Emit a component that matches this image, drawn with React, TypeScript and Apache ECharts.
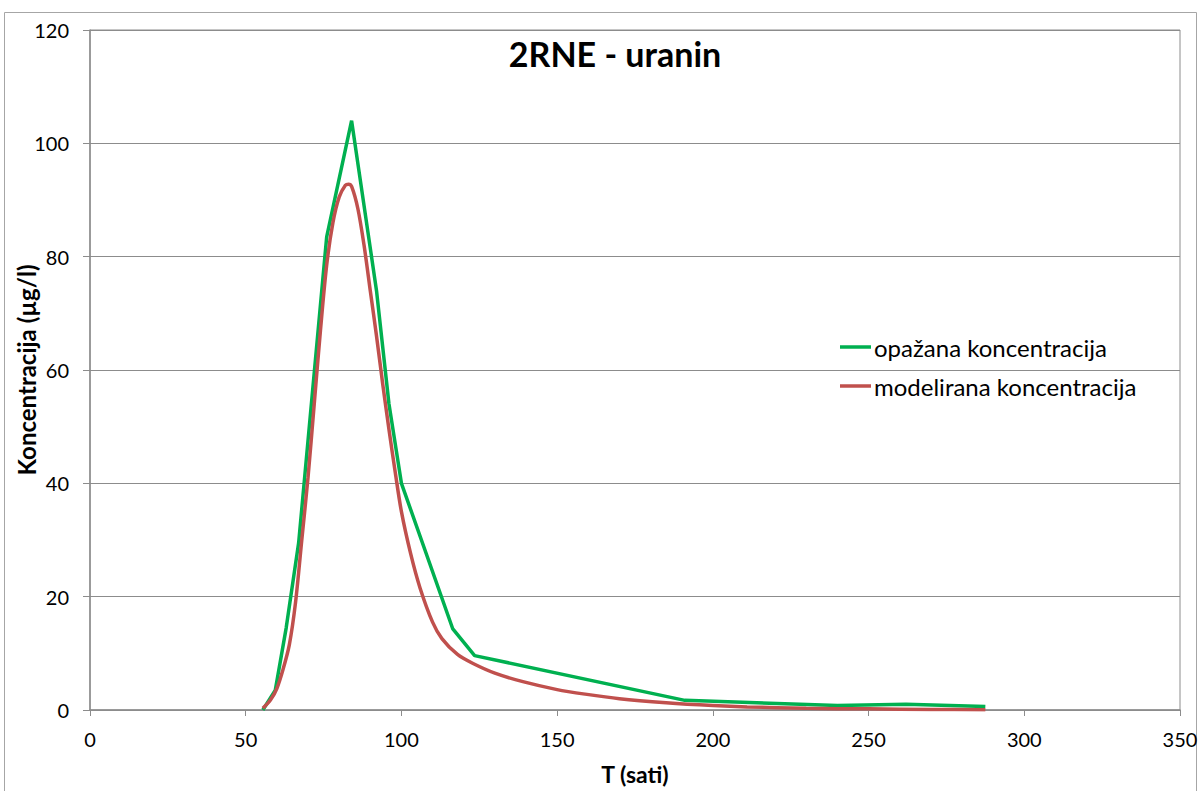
import React, { useEffect, useRef } from "react";
import * as echarts from "echarts";

const xTicks = [0, 50, 100, 150, 200, 250, 300, 350];
const yTicks = [0, 20, 40, 60, 80, 100, 120];

const observedT = [55.5, 59.5, 63, 67, 76, 84, 92, 96, 100, 116.5, 123.5, 191, 240, 262, 287.5];
const observedC = [0, 3.5, 14.5, 29.5, 83.5, 104, 74, 54, 40, 14.3, 9.6, 1.7, 0.8, 1.0, 0.6];

const modelT = [55.5, 58, 60, 62, 64, 66, 68, 70, 72, 74, 76, 78, 80, 82, 83, 84, 86, 88, 90, 92, 94, 96, 98, 100, 103, 106, 110, 113, 118, 123, 130, 139, 150, 159, 170, 185, 200, 211, 230, 250, 270, 287.5];
const modelC = [0.3, 1.8, 3.8, 7.2, 11.5, 19, 30, 41, 54, 67, 78.5, 86, 90.5, 92.6, 92.8, 92.4, 88.5, 82, 74, 66, 57.5, 49.5, 42, 35, 27.5, 21.5, 15.5, 12.6, 9.8, 8.2, 6.5, 5.0, 3.6, 2.8, 2.0, 1.3, 0.8, 0.55, 0.3, 0.2, 0.1, 0.05];

const GREEN = "#00B050";
const RED = "#C0504D";
const FONT = "Lato, 'Open Sans', sans-serif";
const Y_NAME = "Koncentracija (µg/l)";

export default function App() {
  const ref = useRef<HTMLDivElement>(null);
  useEffect(() => {
    if (!ref.current) return;
    const chart = echarts.init(ref.current, null, { renderer: "svg" });
    chart.setOption({
      animation: false,
      backgroundColor: "#fff",
      textStyle: { fontFamily: FONT },
      grid: {
        left: 90,
        right: 21,
        top: 30,
        bottom: 81,
        show: true,
        borderColor: "#8c8c8c",
        borderWidth: 1,
        containLabel: false,
        outerBoundsMode: "none",
      },
      title: {
        text: "2RNE - uranin",
        left: 610,
        top: 31,
        textAlign: "center",
        textStyle: { fontFamily: FONT, fontSize: 34, fontWeight: "bold", color: "#000" },
      },
      legend: {
        orient: "vertical",
        left: 835,
        top: 330,
        itemGap: 15,
        itemWidth: 31,
        itemHeight: 3.5,
        icon: "rect",
        textStyle: { fontFamily: FONT, fontSize: 24, lineHeight: 24, color: "#000", padding: [0, 0, 0, -2] },
        data: ["opažana koncentracija", "modelirana koncentracija"],
      },
      xAxis: {
        type: "value",
        min: xTicks[0],
        max: xTicks[xTicks.length - 1],
        interval: 50,
        name: "T (sati)",
        nameLocation: "middle",
        nameGap: 52,
        nameTextStyle: { fontFamily: FONT, fontSize: 23, fontWeight: "bold", color: "#000" },
        axisLine: { show: true, lineStyle: { color: "#8c8c8c", width: 1.5 } },
        axisTick: { show: true, length: 6, inside: false, lineStyle: { color: "#8c8c8c" } },
        axisLabel: { fontFamily: FONT, fontSize: 20, color: "#000", margin: 19 },
        splitLine: { show: false },
      },
      yAxis: {
        type: "value",
        min: yTicks[0],
        max: yTicks[yTicks.length - 1],
        interval: 20,
        axisLine: { show: true, lineStyle: { color: "#8c8c8c", width: 1.5 } },
        axisTick: { show: true, length: 7, inside: false, lineStyle: { color: "#8c8c8c" } },
        axisLabel: { fontFamily: FONT, fontSize: 20, color: "#000", margin: 21 },
        splitLine: { show: true, lineStyle: { color: "#8c8c8c", width: 1.2 } },
      },
      graphic: [
        {
          type: "rect",
          shape: { x: 4.5, y: 12.5, width: 1192, height: 790 },
          style: { fill: "none", stroke: "#a6a6a6", lineWidth: 1 },
          silent: true,
          z: -1,
        },
        {
          type: "text",
          x: 26,
          y: 370,
          rotation: Math.PI / 2,
          style: {
            text: Y_NAME,
            fontFamily: FONT,
            fontSize: 24,
            fontWeight: "bold",
            fill: "#000",
            align: "center",
            verticalAlign: "middle",
          },
          silent: true,
        },
      ],
      series: [
        {
          name: "opažana koncentracija",
          type: "line",
          data: observedT.map((t, i) => [t, observedC[i]]),
          showSymbol: false,
          symbol: "none",
          lineStyle: { color: GREEN, width: 3.5 },
          itemStyle: { color: GREEN },
          z: 3,
        },
        {
          name: "modelirana koncentracija",
          type: "line",
          data: modelT.map((t, i) => [t, modelC[i]]),
          showSymbol: false,
          symbol: "none",
          smooth: 0.3,
          lineStyle: { color: RED, width: 3.5 },
          itemStyle: { color: RED },
          z: 4,
        },
      ],
    });
    return () => chart.dispose();
  }, []);
  return (
    <div
      ref={ref}
      style={{ position: "fixed", left: 0, top: 0, width: 1201, height: 791, background: "#fff" }}
    />
  );
}
